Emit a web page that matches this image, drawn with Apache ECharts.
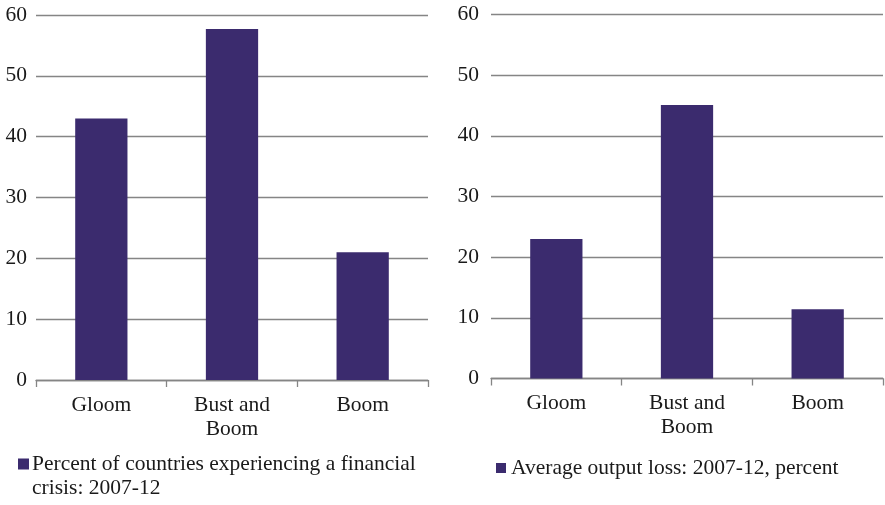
<!DOCTYPE html>
<html>
<head>
<meta charset="utf-8">
<script src="https://cdn.jsdelivr.net/npm/echarts@6/dist/echarts.min.js"></script>
<style>html,body{margin:0;padding:0;background:#fff}#c{width:885px;height:505px}</style>
</head>
<body>
<div id="c"></div>
<script>
var categories = ['Gloom', 'Bust and\nBoom', 'Boom'];
var crisisShare = [43, 57.7, 21];
var outputLoss = [23, 45.1, 11.4];
var yTicks = [0, 10, 20, 30, 40, 50, 60];
var seriesNames = ['Percent of countries experiencing a financial\ncrisis: 2007-12', 'Average output loss: 2007-12, percent'];

var FONT = '"Liberation Serif", "Times New Roman", serif';
var FS = 21.5;
var BAR = '#3b2b6e';
var GRID = '#858585';
var TXT = '#1a1a1a';

function xAxis(i) {
  return {
    type: 'category', gridIndex: i, data: categories,
    axisLine: {lineStyle: {color: GRID, width: 1.3}},
    axisTick: {show: true, length: 7, lineStyle: {color: GRID, width: 1.3}},
    axisLabel: {color: TXT, fontFamily: FONT, fontSize: FS, lineHeight: 24, margin: 13, interval: 0}
  };
}
function yAxis(i, margin) {
  return {
    type: 'value', gridIndex: i, min: yTicks[0], max: yTicks[yTicks.length - 1], interval: 10,
    axisLine: {show: false}, axisTick: {show: false},
    splitLine: {lineStyle: {color: GRID, width: 1.3}},
    axisLabel: {color: TXT, fontFamily: FONT, fontSize: FS, margin: margin}
  };
}
var chart = echarts.init(document.getElementById('c'));
chart.setOption({
  animation: false,
  textStyle: {fontFamily: FONT},
  grid: [
    {left: 36, right: 457, top: 15, bottom: 125},
    {left: 491, right: 2, top: 14.5, bottom: 126.5}
  ],
  xAxis: [xAxis(0), xAxis(1)],
  yAxis: [yAxis(0, 9), yAxis(1, 12)],
  legend: [
    {data: [seriesNames[0]], left: 18, top: 452, padding: 0,
     icon: 'path://M0,6.5h11v11H0z M0,0L0.01,0 M11,48L11.01,48',
     itemWidth: 11, itemHeight: 48,
     textStyle: {color: TXT, fontFamily: FONT, fontSize: FS, lineHeight: 24, padding: [0, 0, 0, -2]}},
    {data: [seriesNames[1]], left: 496, top: 456, padding: 0, icon: 'rect', itemWidth: 10, itemHeight: 10,
     textStyle: {color: TXT, fontFamily: FONT, fontSize: FS, lineHeight: 24}}
  ],
  series: [
    {name: seriesNames[0], type: 'bar', xAxisIndex: 0, yAxisIndex: 0, data: crisisShare, barWidth: '40%', itemStyle: {color: BAR}},
    {name: seriesNames[1], type: 'bar', xAxisIndex: 1, yAxisIndex: 1, data: outputLoss, barWidth: '40%', itemStyle: {color: BAR}}
  ]
});
</script>
</body>
</html>
